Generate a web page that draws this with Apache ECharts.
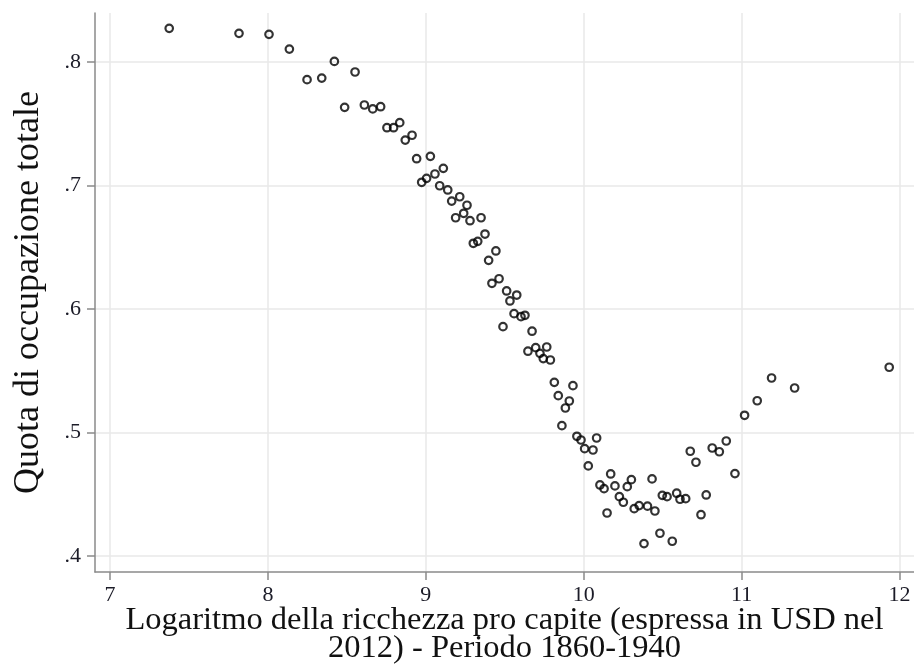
<!DOCTYPE html>
<html>
<head>
<meta charset="utf-8">
<script src="https://cdn.jsdelivr.net/npm/echarts@6/dist/echarts.min.js"></script>
<style>
html,body{margin:0;padding:0;background:#fff;}
#chart{width:914px;height:666px;}
</style>
</head>
<body>
<div id="chart"></div>
<script>
// Log of wealth per capita (x) and total employment share (y)
const xValues = [
  7.375, 7.817, 8.007, 8.136, 8.421, 8.248, 8.341, 8.552, 8.486, 8.611,
  8.664, 8.714, 8.754, 8.796, 8.835, 8.870, 8.913, 8.942, 9.029, 8.974,
  9.005, 9.058, 9.111, 9.088, 9.139, 9.215, 9.164, 9.261, 9.240, 9.189,
  9.280, 9.350, 9.375, 9.301, 9.329, 9.444, 9.398, 9.464, 9.419, 9.512,
  9.576, 9.533, 9.559, 9.603, 9.628, 9.489, 9.673, 9.647, 9.696, 9.723,
  9.766, 9.744, 9.789, 9.814, 9.932, 9.839, 9.909, 9.884, 9.862, 9.957,
  9.983, 10.082, 10.006, 10.059, 10.029, 10.171, 10.103, 10.129, 10.198, 10.276,
  10.302, 10.226, 10.251, 10.148, 10.433, 10.320, 10.351, 10.404, 10.451, 10.498,
  10.528, 10.589, 10.610, 10.646, 10.675, 10.711, 10.776, 10.743, 10.814, 10.859,
  10.903, 10.958, 11.019, 11.099, 11.190, 10.382, 10.483, 10.561, 11.336, 11.935
];
const yValues = [
  0.8273, 0.8232, 0.8224, 0.8105, 0.8005, 0.7857, 0.7870, 0.7919, 0.7633, 0.7652,
  0.7620, 0.7638, 0.7468, 0.7468, 0.7509, 0.7368, 0.7407, 0.7217, 0.7236, 0.7026,
  0.7058, 0.7093, 0.7139, 0.6998, 0.6964, 0.6909, 0.6874, 0.6840, 0.6775, 0.6739,
  0.6715, 0.6739, 0.6607, 0.6532, 0.6548, 0.6470, 0.6394, 0.6245, 0.6208, 0.6146,
  0.6113, 0.6065, 0.5962, 0.5938, 0.5949, 0.5857, 0.5820, 0.5658, 0.5687, 0.5641,
  0.5692, 0.5598, 0.5587, 0.5406, 0.5379, 0.5298, 0.5255, 0.5198, 0.5055, 0.4969,
  0.4939, 0.4955, 0.4869, 0.4858, 0.4729, 0.4664, 0.4575, 0.4545, 0.4567, 0.4561,
  0.4618, 0.4480, 0.4435, 0.4348, 0.4624, 0.4383, 0.4408, 0.4403, 0.4364, 0.4491,
  0.4480, 0.4508, 0.4459, 0.4464, 0.4848, 0.4759, 0.4494, 0.4334, 0.4874, 0.4844,
  0.4931, 0.4667, 0.5139, 0.5257, 0.5441, 0.4100, 0.4184, 0.4119, 0.5360, 0.5528
];
const xTicks = [7, 8, 9, 10, 11, 12];
const yTicks = [0.4, 0.5, 0.6, 0.7, 0.8];
const xTitle = 'Logaritmo della ricchezza pro capite (espressa in USD nel\n2012) - Periodo 1860-1940';
const yTitle = 'Quota di occupazione totale';

const points = xValues.map((x, i) => [x, yValues[i]]);
const font = '"Liberation Serif", "Times New Roman", serif';
const axisGray = '#8a8a8a';
const gridGray = '#e8e8e8';

const chart = echarts.init(document.getElementById('chart'), null, {renderer: 'canvas'});
chart.setOption({
  animation: false,
  backgroundColor: '#ffffff',
  grid: {left: 95, right: 0, top: 13, bottom: 94, outerBoundsMode: 'none', containLabel: false},
  xAxis: {
    type: 'value',
    min: 6.905, max: 12.092,
    name: xTitle,
    nameLocation: 'middle',
    nameGap: 34,
    nameMoveOverlap: false,
    nameTextStyle: {fontFamily: font, fontSize: 32.5, lineHeight: 28, color: '#111'},
    axisLine: {show: true, onZero: false, lineStyle: {color: axisGray, width: 1.5}},
    axisTick: {show: true, length: 8, customValues: xTicks, lineStyle: {color: axisGray, width: 1.5}},
    axisLabel: {customValues: xTicks, margin: 12, fontFamily: font, fontSize: 22, color: '#1c1c28'},
    splitLine: {show: true, lineStyle: {color: gridGray, width: 1.5}}
  },
  yAxis: {
    type: 'value',
    min: 0.387, max: 0.8397,
    name: yTitle,
    nameLocation: 'middle',
    nameGap: 48,
    nameMoveOverlap: false,
    nameRotate: 90,
    nameTextStyle: {fontFamily: font, fontSize: 36, color: '#111'},
    axisLine: {show: true, onZero: false, lineStyle: {color: axisGray, width: 1.5}},
    axisTick: {show: true, length: 8, customValues: yTicks, lineStyle: {color: axisGray, width: 1.5}},
    axisLabel: {customValues: yTicks, margin: 14, fontFamily: font, fontSize: 22, color: '#1c1c28',
      formatter: v => String(+v.toFixed(1)).replace(/^0/, '')},
    splitLine: {show: true, lineStyle: {color: gridGray, width: 1.5}}
  },
  series: [{
    type: 'scatter',
    data: points,
    symbol: 'circle',
    symbolSize: 7.5,
    itemStyle: {color: 'rgba(0,0,0,0)', borderColor: '#000', borderWidth: 2.2},
    emphasis: {disabled: true}
  }]
});
</script>
</body>
</html>
